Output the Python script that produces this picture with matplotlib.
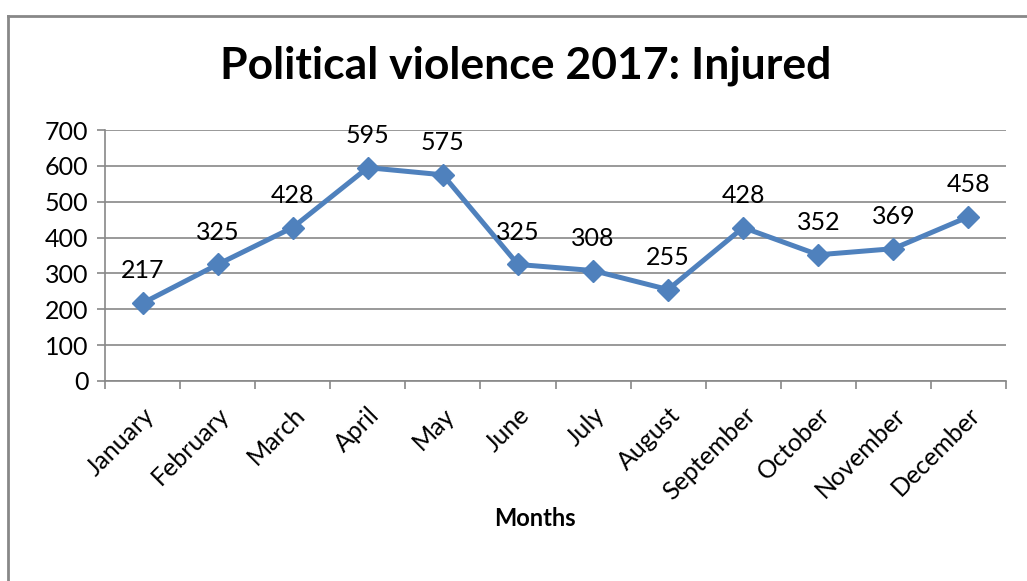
import matplotlib.pyplot as plt
from matplotlib.lines import Line2D

plt.rcParams['font.family'] = ['Lato', 'DejaVu Sans']

months = ['January', 'February', 'March', 'April', 'May', 'June', 'July',
          'August', 'September', 'October', 'November', 'December']
injured = [217, 325, 428, 595, 575, 325, 308, 255, 428, 352, 369, 458]

fig = plt.figure(figsize=(10.27, 5.81), dpi=100)
ax = fig.add_axes([105 / 1027, 1 - 381 / 581, 901 / 1027, 251 / 581])

# outer chart border (left and top only visible)
fig.add_artist(Line2D([8 / 1027, 8 / 1027], [0, 1 - 16 / 581], transform=fig.transFigure,
                      color='#888888', lw=2))
fig.add_artist(Line2D([8 / 1027, 1], [1 - 16 / 581, 1 - 16 / 581], transform=fig.transFigure,
                      color='#888888', lw=2))

x = list(range(len(months)))
ax.plot(x, injured, color='#4F81BD', lw=3.6, marker='D', markersize=11, zorder=3)

for xi, v in zip(x, injured):
    ax.annotate(str(v), (xi, v), xytext=(0, 15), textcoords='offset points',
                ha='center', va='bottom', fontsize=18)

ax.set_xlim(-0.5, len(months) - 0.5)
ax.set_ylim(0, 700)
ax.set_yticks(range(0, 701, 100))
ax.tick_params(axis='y', labelsize=18, length=6, color='#888888', width=1.2, pad=6)
ax.set_xticks(x)
ax.set_xticklabels(months, rotation=45, ha='right', rotation_mode='anchor', fontsize=18)
ax.set_xticks([i - 0.5 for i in range(len(months) + 1)], minor=True)
ax.tick_params(axis='x', which='major', length=0, pad=16)
ax.tick_params(axis='x', which='minor', length=6, color='#888888', width=1.2)
ax.yaxis.grid(True, color='#888888', lw=1.2)
ax.set_axisbelow(True)
for s in ['top', 'right']:
    ax.spines[s].set_visible(False)
for s in ['left', 'bottom']:
    ax.spines[s].set_color('#888888')
    ax.spines[s].set_linewidth(1.2)

fig.text(535 / 1027, 1 - 519 / 581, 'Months', ha='center', va='center',
         fontsize=17, fontweight='bold')
fig.text(526 / 1027, 1 - 66 / 581, 'Political violence 2017: Injured',
         ha='center', va='center', fontsize=32, fontweight='bold')

fig.savefig('out.png', dpi=100)
